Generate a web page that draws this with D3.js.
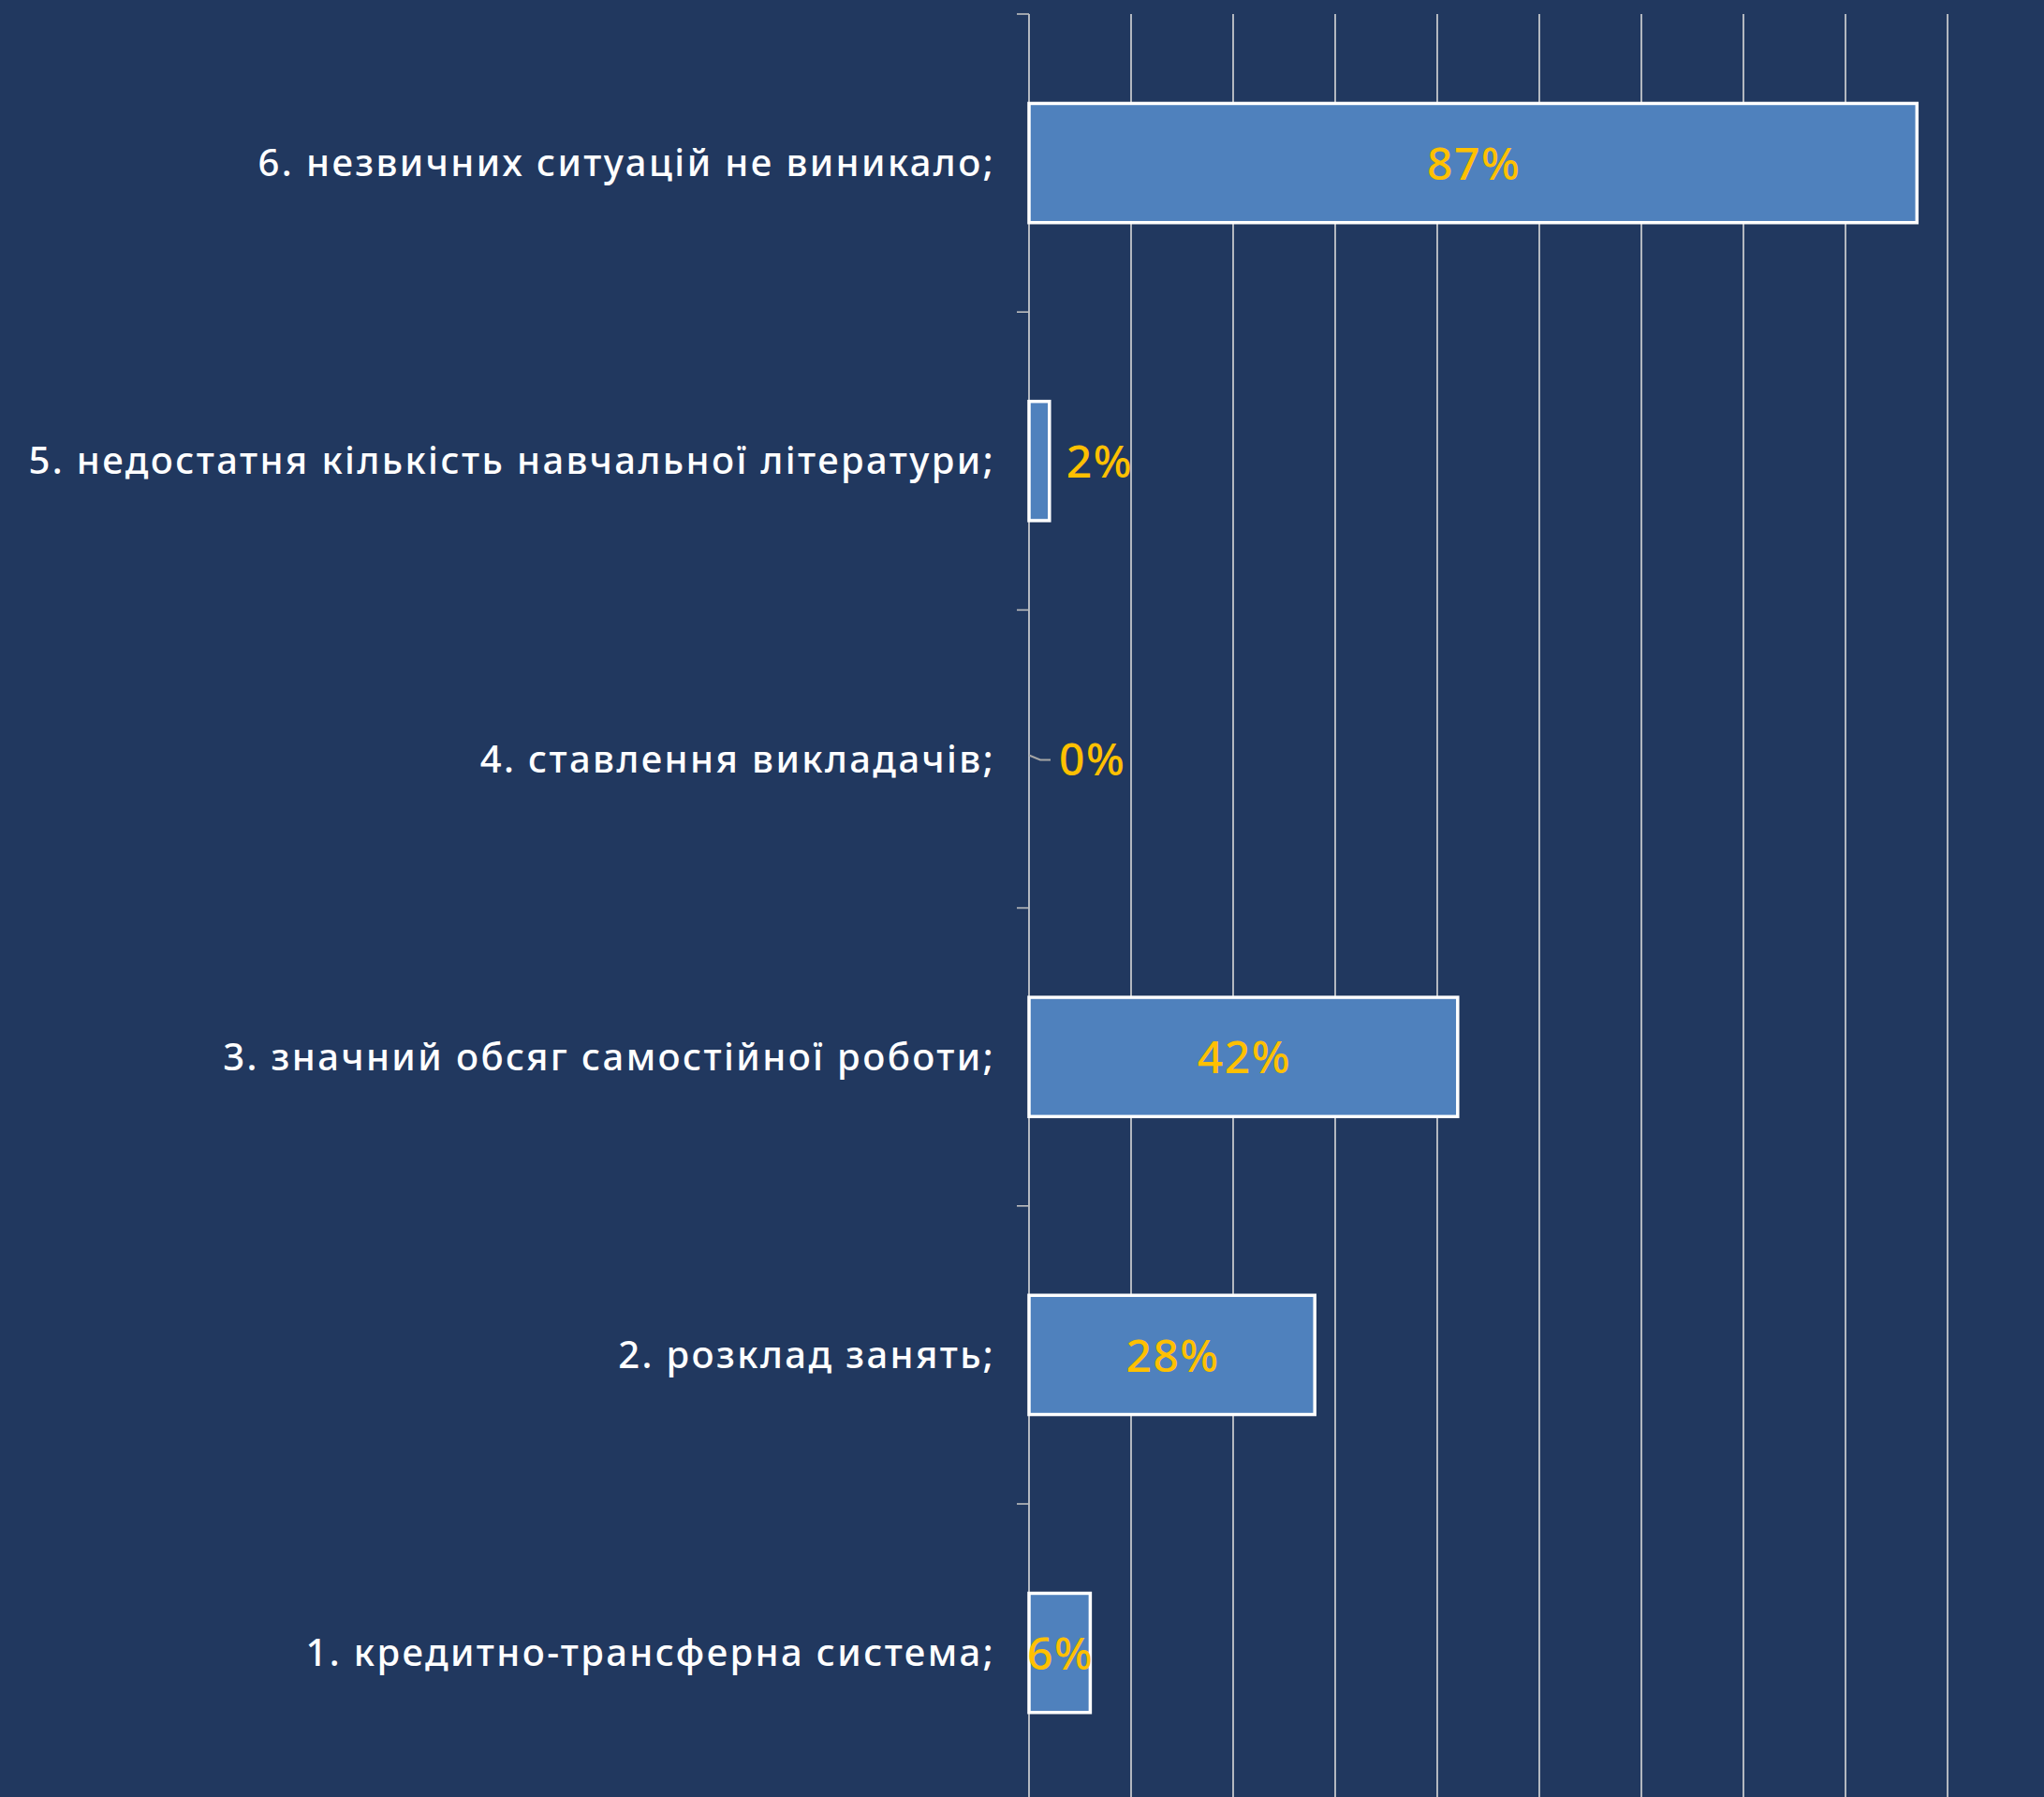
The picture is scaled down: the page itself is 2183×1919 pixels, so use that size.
<!DOCTYPE html>
<html>
<head>
<meta charset="utf-8">
<script src="https://cdn.jsdelivr.net/npm/d3@7"></script>
<style>
  html, body { margin: 0; padding: 0; background: #21385f; overflow: hidden; }
</style>
</head>
<body>
<div id="chart"></div>
<script>
(function() {

    var width = 2183;
    var height = 1919;

    // data, top to bottom as drawn
    var categories = [
        "6. незвичних ситуацій не виникало;",
        "5. недостатня кількість навчальної літератури;",
        "4. ставлення викладачів;",
        "3. значний обсяг самостійної роботи;",
        "2. розклад занять;",
        "1. кредитно-трансферна система;"
    ];
    var values = [0.87, 0.02, 0, 0.42, 0.28, 0.06];
    var gridTicks = [0, 0.1, 0.2, 0.3, 0.4, 0.5, 0.6, 0.7, 0.8, 0.9, 1.0];

    var data = categories.map(function(c, i) {
        return { name: c, value: values[i] };
    });

    var margin = { top: 15, left: 1099 };

    var svg = d3.select("#chart")
        .append("svg")
        .attr("width", width)
        .attr("height", height)
        .style("display", "block");

    svg.append("rect")
        .attr("width", width)
        .attr("height", height)
        .attr("fill", "#21385f");

    var x = d3.scaleLinear().domain([0, 1]).range([margin.left, margin.left + 1090]);
    var y = d3.scaleBand()
        .domain(categories)
        .range([margin.top, margin.top + 318.2 * 6])
        .paddingInner(0.6)
        .paddingOuter(0.3);

    // vertical gridlines
    svg.append("g")
        .selectAll("line")
        .data(gridTicks.slice(1))
        .enter().append("line")
        .attr("x1", d => x(d))
        .attr("x2", d => x(d))
        .attr("y1", margin.top)
        .attr("y2", height)
        .attr("stroke", "#d9d9d9")
        .attr("stroke-width", 1.6);

    // category axis
    var yAxisBand = d3.range(categories.length + 1).map(i => margin.top + y.step() * i);
    svg.append("line")
        .attr("x1", x(0)).attr("x2", x(0))
        .attr("y1", margin.top).attr("y2", height)
        .attr("stroke", "#d9d9d9")
        .attr("stroke-width", 1.6);
    svg.append("g")
        .selectAll("line")
        .data(yAxisBand)
        .enter().append("line")
        .attr("x1", x(0) - 13)
        .attr("x2", x(0))
        .attr("y1", d => d)
        .attr("y2", d => d)
        .attr("stroke", "#bfbfbf")
        .attr("stroke-width", 1.6);

    // bars
    svg.append("g")
        .selectAll("rect")
        .data(data.filter(d => d.value > 0))
        .enter().append("rect")
        .attr("x", x(0))
        .attr("y", d => y(d.name))
        .attr("width", d => x(d.value) - x(0))
        .attr("height", y.bandwidth())
        .attr("fill", "#4f81bd")
        .attr("stroke", "#ffffff")
        .attr("stroke-width", 3.5);

    // category labels
    svg.append("g")
        .selectAll("text")
        .data(data)
        .enter().append("text")
        .attr("x", x(0) - 36)
        .attr("y", d => y(d.name) + y.bandwidth() / 2)
        .attr("dy", "0.35em")
        .attr("text-anchor", "end")
        .attr("fill", "#ffffff")
        .attr("font-family", "'Noto Sans', sans-serif")
        .attr("font-weight", 500)
        .attr("font-size", 40)
        .attr("letter-spacing", 2.4)
        .text(d => d.name);

    // value labels: inside when bar is wide, outside otherwise
    function outside(d) { return d.value < 0.04; }

    svg.append("g")
        .selectAll("path")
        .data(data.filter(d => d.value === 0))
        .enter().append("path")
        .attr("d", function(d) {
            var cy = y(d.name) + y.bandwidth() / 2;
            return "M" + x(0) + "," + (cy - 4) + "L" + (x(0) + 12) + "," + (cy + 1) + "L" + (x(0) + 23) + "," + (cy + 1);
        })
        .attr("fill", "none")
        .attr("stroke", "#a6a6a6")
        .attr("stroke-width", 2);

    svg.append("g")
        .selectAll("text")
        .data(data)
        .enter().append("text")
        .attr("x", function(d) {
            if (outside(d)) return x(d.value) + (d.value === 0 ? 32 : 18);
            return (x(0) + x(d.value)) / 2 + 1;
        })
        .attr("y", d => y(d.name) + y.bandwidth() / 2)
        .attr("dy", "0.37em")
        .attr("text-anchor", d => outside(d) ? "start" : "middle")
        .attr("fill", "#ffc000")
        .attr("font-family", "'Noto Sans', sans-serif")
        .attr("font-weight", 500)
        .attr("font-size", 48)
        .attr("letter-spacing", 1.5)
        .text(d => Math.round(d.value * 100) + "%");

})();
</script>
</body>
</html>
